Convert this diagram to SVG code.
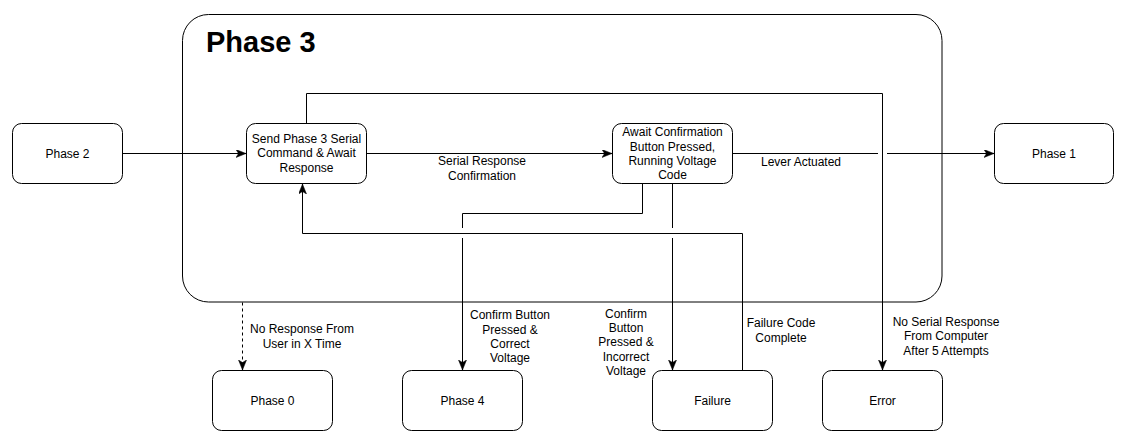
<svg xmlns="http://www.w3.org/2000/svg" width="1122" height="442" viewBox="0 0 1122 442">
<style>
.node{fill:#fff;stroke:#000;stroke-width:1}
.t{font-family:"Liberation Sans",Arial,sans-serif;font-size:12px;fill:#000;text-anchor:middle}
.title{font-family:"Liberation Sans",Arial,sans-serif;font-size:29px;font-weight:bold;fill:#000}
.e{fill:none;stroke:#000;stroke-width:1}
.d{stroke-dasharray:3 3}
</style>
<defs>
<marker id="arr" markerUnits="userSpaceOnUse" markerWidth="12" markerHeight="10" refX="10" refY="4" orient="auto">
<path d="M0,0 L10,4 L0,8 L2.5,4 Z" fill="#000" stroke="#000" stroke-width="0.5"/>
</marker>
</defs>
<rect width="1122" height="442" fill="#fff"/>
<g id="phase3">
<rect class="node" x="182.5" y="14.5" width="759.5" height="287.5" rx="26" ry="26"/>
<text class="title" x="206" y="52">Phase 3</text>
</g>
<g id="phase2"><rect class="node" x="12.5" y="123.5" width="110" height="60" rx="9"/><text class="t" x="67.5" y="157.5">Phase 2</text></g>
<g id="send"><rect class="node" x="246.5" y="123.5" width="120" height="60" rx="9"/>
<text class="t" x="306.5" y="142.5">Send Phase 3 Serial</text><text class="t" x="306.5" y="157">Command &amp; Await</text><text class="t" x="306.5" y="171.5">Response</text></g>
<g id="await"><rect class="node" x="612.5" y="123.5" width="120" height="60" rx="9"/>
<text class="t" x="672.5" y="136">Await Confirmation</text><text class="t" x="672.5" y="150.5">Button Pressed,</text><text class="t" x="672.5" y="165">Running Voltage</text><text class="t" x="672.5" y="179">Code</text></g>
<g id="phase1"><rect class="node" x="994.5" y="123.5" width="119" height="60" rx="9"/><text class="t" x="1054" y="157.5">Phase 1</text></g>
<g id="phase0"><rect class="node" x="212.5" y="370.5" width="120" height="60" rx="9"/><text class="t" x="272.5" y="404.5">Phase 0</text></g>
<g id="phase4"><rect class="node" x="402.5" y="370.5" width="120" height="60" rx="9"/><text class="t" x="462.5" y="404.5">Phase 4</text></g>
<g id="failure"><rect class="node" x="652.5" y="370.5" width="120" height="60" rx="9"/><text class="t" x="712.5" y="404.5">Failure</text></g>
<g id="error"><rect class="node" x="822.5" y="370.5" width="120" height="60" rx="9"/><text class="t" x="882.5" y="404.5">Error</text></g>
<g id="connectors">
<path class="e" d="M122.5,153.5 H246" marker-end="url(#arr)"/>
<path class="e" d="M366.5,153.5 H612" marker-end="url(#arr)"/>
<text class="t" x="482" y="165">Serial Response</text><text class="t" x="482" y="180">Confirmation</text>
<path class="e" d="M732.5,153.5 H878"/>
<path class="e" d="M887,153.5 H994" marker-end="url(#arr)"/>
<text class="t" x="801" y="165.5">Lever Actuated</text>
<path class="e" d="M306.5,123.5 V93.5 H882.5 V370" marker-end="url(#arr)"/>
<text class="t" x="946" y="326">No Serial Response</text><text class="t" x="946" y="340">From Computer</text><text class="t" x="946" y="355">After 5 Attempts</text>
<path class="e" d="M642.5,183.5 V213.5 H462.5 V228"/>
<path class="e" d="M462.5,238 V370" marker-end="url(#arr)"/>
<text class="t" x="510" y="319">Confirm Button</text><text class="t" x="510" y="333.5">Pressed &amp;</text><text class="t" x="510" y="347.5">Correct</text><text class="t" x="510" y="362">Voltage</text>
<path class="e" d="M672.5,183.5 V228"/>
<path class="e" d="M672.5,238 V370" marker-end="url(#arr)"/>
<text class="t" x="626" y="318">Confirm</text><text class="t" x="626" y="332">Button</text><text class="t" x="626" y="346">Pressed &amp;</text><text class="t" x="626" y="361">Incorrect</text><text class="t" x="626" y="375">Voltage</text>
<path class="e" d="M742.5,370.5 V233.5 H302.5 V184" marker-end="url(#arr)"/>
<text class="t" x="781" y="327">Failure Code</text><text class="t" x="781" y="342">Complete</text>
<path class="e d" d="M242.5,302.5 V370" marker-end="url(#arr)"/>
<text class="t" x="302" y="333">No Response From</text><text class="t" x="302" y="347.5">User in X Time</text>
</g>
</svg>
